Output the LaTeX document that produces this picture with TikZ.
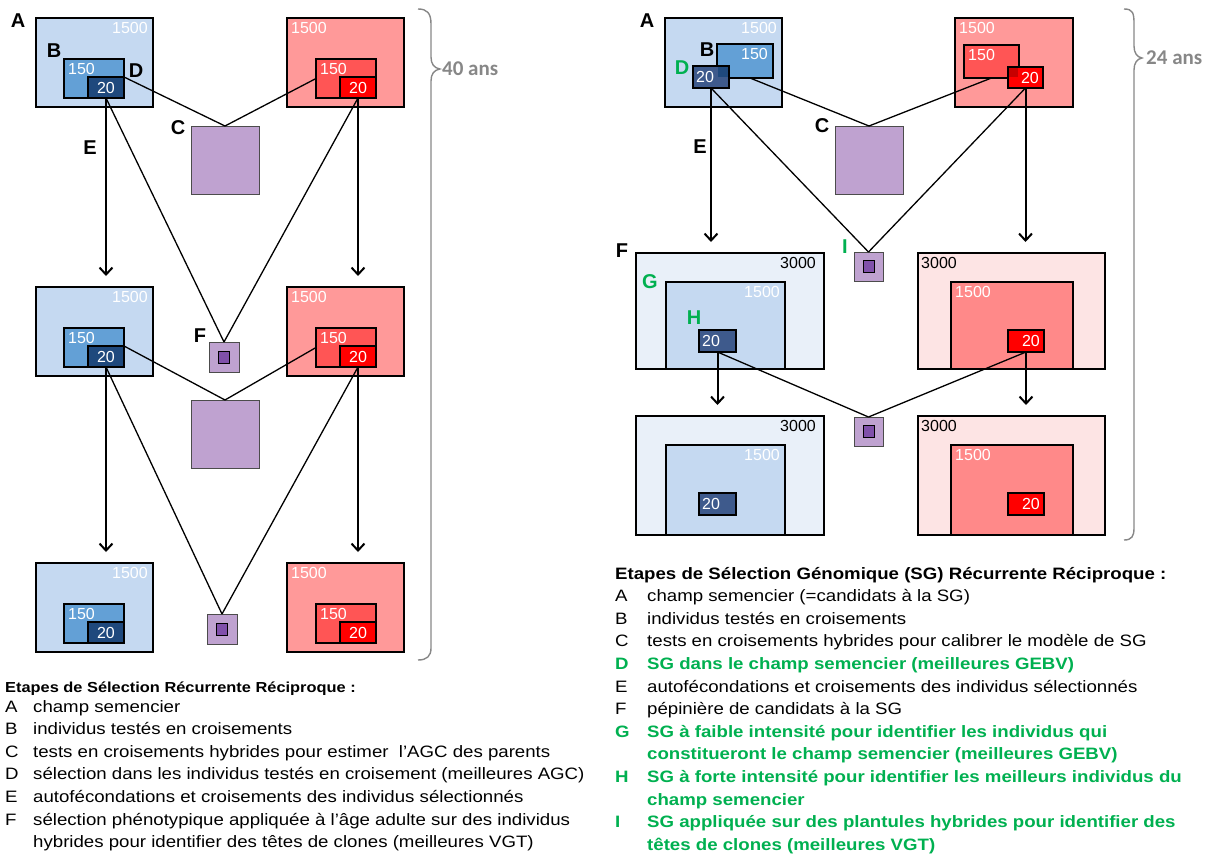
\documentclass[tikz,border=0pt]{standalone}
\usepackage{fontspec}
\setmainfont{Liberation Sans}
\newfontfamily\legfont{Liberation Sans}[FakeStretch=1.13]
\newfontfamily\bracefont{Carlito}
\usetikzlibrary{arrows.meta,calc}
\definecolor{blueA}{RGB}{197,217,241}
\definecolor{blueB}{RGB}{99,160,214}
\definecolor{blueD}{RGB}{31,73,125}
\definecolor{blueE}{RGB}{62,90,140}
\definecolor{blueF}{RGB}{233,240,249}
\definecolor{redA}{RGB}{255,153,153}
\definecolor{redB}{RGB}{255,85,85}
\definecolor{redD}{RGB}{255,0,0}
\definecolor{redE}{RGB}{200,0,0}
\definecolor{redG}{RGB}{255,137,137}
\definecolor{redF}{RGB}{253,228,228}
\definecolor{purC}{RGB}{191,162,208}
\definecolor{purI}{RGB}{128,80,170}
\definecolor{sgreen}{RGB}{0,176,80}
\definecolor{brgray}{RGB}{135,135,135}
\newcommand{\sgt}[1]{{\leavevmode\color{sgreen}\bfseries #1}}

\tikzset{
  fld/.style={draw=black, line width=2.8pt, inner sep=0pt, outer sep=0pt, anchor=north west},
  hyb/.style={draw=black!70, line width=0.9pt, fill=purC, inner sep=0pt, outer sep=0pt, anchor=north west},
  pep/.style={draw=black, line width=0.9pt, fill=purI, minimum width=11pt, minimum height=12pt, inner sep=0pt},
  num/.style={text=white, font=\fontsize{16}{16}\selectfont},
  numk/.style={text=black, font=\fontsize{16}{16}\selectfont},
  trw/.style={label={[num,anchor=north east,inner xsep=5pt,inner ysep=4pt]north east:#1}},
  tlw/.style={label={[num,anchor=north west,inner xsep=4pt,inner ysep=4pt]north west:#1}},
  trk/.style={label={[numk,anchor=north east,inner xsep=8pt,inner ysep=4pt]north east:#1}},
  tlk/.style={label={[numk,anchor=north west,inner xsep=3pt,inner ysep=4pt]north west:#1}},
  lw/.style={label={[num,anchor=west,inner sep=3pt]west:#1}},
  rw/.style={label={[num,anchor=east,inner sep=4pt]east:#1}},
  cross/.style={line width=1.3pt},
  gen/.style={line width=2pt, -{Straight Barb[length=7pt,width=13pt,line width=2pt]}, shorten >=11pt},
  lab/.style={font=\fontsize{20}{20}\selectfont\bfseries, inner sep=0pt},
  glab/.style={lab, text=sgreen},
  brc/.style={draw=brgray, line width=1.4pt},
  ans/.style={text=brgray, font=\bracefont\fontsize{21}{21}\selectfont\bfseries, inner sep=0pt, anchor=west},
  leg/.style={inner sep=0pt, anchor=base west, font=\legfont\fontsize{16.5}{22.6}\selectfont}
}

\begin{document}
\begin{tikzpicture}[x=1pt,y=-1pt]
\useasboundingbox (0,0) rectangle (1219,854);

% ---- selection recurrente reciproque
\foreach \i/\y in {1/18,2/287,3/563}{
  \node[fld,fill=blueA,minimum width=117pt,minimum height=89pt,trw=1500] (bA\i) at (36,\y) {};
  \node[fld,fill=blueB,minimum width=60pt,minimum height=39pt,tlw=150] (bB\i) at (64,\y+41) {};
  \node[fld,num,fill=blueD,minimum width=36pt,minimum height=21pt] (bD\i) at (88,\y+59) {20};
  \node[fld,fill=redA,minimum width=117pt,minimum height=89pt,tlw=1500] (rA\i) at (287,\y) {};
  \node[fld,fill=redB,minimum width=60pt,minimum height=39pt,tlw=150] (rB\i) at (316,\y+41) {};
  \node[fld,num,fill=redD,minimum width=36pt,minimum height=21pt] (rD\i) at (340,\y+59) {20};
}
\node[hyb,minimum size=68pt] (c1) at (191,126) {};
\node[hyb,minimum size=68pt] (c2) at (191,400) {};
\node[hyb,minimum size=30pt] (f2) at (209,342) {};
\node[hyb,minimum size=30pt] (f3) at (207,614) {};
\foreach \f in {f2,f3} \node[pep] (\f-in) at (\f.center) {};

\foreach \i/\j in {1/2,2/3}{
  \draw[cross] (bD\i.north east) -- (c\i.north);
  \draw[cross] (rB\i.west) -- (c\i.north);
  \draw[cross] (bD\i.south) -- (f\j.north);
  \draw[cross] (rD\i.south) -- (f\j.north);
  \draw[gen] (bD\i.south) -- (bD\i.south |- bA\j.north);
  \draw[gen] (rD\i.south) -- (rD\i.south |- rA\j.north);
}

\node[lab] (lA) at (18,21) {A};
\node[lab] (lB) at (54,51) {B};
\node[lab] (lD) at (136,71) {D};
\node[lab] (lC) at (178,128) {C};
\node[lab] (lE) at (90,148) {E};
\node[lab] (lF) at (200,336) {F};

\draw[brc] (418,9) .. controls (427,9) and (431,13) .. (431,24) -- (431,57)
  .. controls (431,64) and (434,68) .. (440,69) .. controls (434,70) and (431,74) .. (431,81)
  -- (431,648) .. controls (431,656) and (427,660) .. (418,660);
\node[ans] (t40) at (442,69) {40 ans};

% ---- selection genomique recurrente reciproque
\node[fld,fill=blueA,minimum width=117pt,minimum height=89pt,trw=1500] (gA) at (665,18) {};
\node[fld,fill=blueB,minimum width=56pt,minimum height=34pt,trw=150] (gB) at (717,44) {};
\node[fld,fill=blueE,minimum width=36pt,minimum height=22pt,lw=20] (gD) at (693,66) {};
\fill[blueD] ($(gB.west |- gD.north)+(1.4,1.4)$) rectangle ($(gD.east |- gB.south)+(-1.4,-1.4)$);
\node[fld,fill=redA,minimum width=118pt,minimum height=89pt,tlw=1500] (hA) at (955,18) {};
\node[fld,fill=redB,minimum width=55pt,minimum height=33pt,tlw=150] (hB) at (964,45) {};
\node[fld,fill=redD,minimum width=35pt,minimum height=21pt,rw=20] (hD) at (1008,67) {};
\fill[redE] ($(hD.north west)+(1.4,1.4)$) rectangle ($(hB.south east)+(-1.4,-1.4)$);
\node[hyb,minimum size=68pt] (cR) at (835,126) {};

\foreach \i/\y/\h in {2/253/116,3/416/119}{
  \node[fld,fill=blueF,minimum width=188pt,minimum height=\h,trk=3000] (gF\i) at (636,\y) {};
  \node[fld,fill=blueA,minimum width=119pt,minimum height=\h-29,trw=1500] (gG\i) at (666,\y+29) {};
  \node[fld,fill=blueE,minimum width=37pt,minimum height=22pt,lw=20] (gH\i) at (699,\y+77) {};
  \node[fld,fill=redF,minimum width=187pt,minimum height=\h,tlk=3000] (hF\i) at (918,\y) {};
  \node[fld,fill=redG,minimum width=122pt,minimum height=\h-29,tlw=1500] (hG\i) at (951,\y+29) {};
  \node[fld,fill=redD,minimum width=36pt,minimum height=22pt,rw=20] (hH\i) at (1008,\y+77) {};
}
\node[hyb,minimum size=29pt] (i1) at (854,252) {};
\node[hyb,minimum size=29pt] (i2) at (854,417) {};
\foreach \f in {i1,i2} \node[pep] (\f-in) at (\f.center) {};

\draw[cross] ($(gB.south)+(5,0)$) -- (cR.north);
\draw[cross] (hB.south) -- (cR.north);
\draw[cross] (gD.south) -- (i1.north);
\draw[cross] (hD.south) -- (i1.north);
\draw[gen] (gD.south) -- (gD.south |- gF2.north);
\draw[gen] (hD.south) -- (hD.south |- hF2.north);
\draw[cross] (gH2.south) -- (i2.north);
\draw[cross] (hH2.south) -- (i2.north);
\draw[gen] (gH2.south) -- (gH2.south |- gF3.north);
\draw[gen] (hH2.south) -- (hH2.south |- hF3.north);

\node[lab] (mA) at (647,21) {A};
\node[lab] (mB) at (707,50) {B};
\node[glab] (mD) at (682,68) {D};
\node[lab] (mC) at (822,126) {C};
\node[lab] (mE) at (700,147) {E};
\node[lab] (mF) at (622,251) {F};
\node[glab] (mG) at (650,282) {G};
\node[glab] (mH) at (694,318) {H};
\node[glab] (mI) at (845,247) {I};

\draw[brc] (1124,9) .. controls (1133,9) and (1134,13) .. (1134,24) -- (1134,46)
  .. controls (1134,53) and (1137,57) .. (1142,58) .. controls (1137,59) and (1134,63) .. (1134,70)
  -- (1134,528) .. controls (1134,536) and (1132,540) .. (1124,540);
\node[ans] (t24) at (1146,58) {24 ans};

% ---- legendes
\node[leg,font=\legfont\fontsize{14.5}{16}\selectfont\bfseries] (legLt) at (5,692)
  {Etapes de Sélection Récurrente Réciproque :};
\node[leg] (legL) at (5,712) {%
\begin{tabular}[t]{@{}p{28pt}@{}l@{}}
A & champ semencier\\
B & individus testés en croisements\\
C & tests en croisements hybrides pour estimer \ l’AGC des parents\\
D & sélection dans les individus testés en croisement (meilleures AGC)\\
E & autofécondations et croisements des individus sélectionnés\\
F & sélection phénotypique appliquée à l’âge adulte sur des individus\\
  & hybrides pour identifier des têtes de clones (meilleures VGT)
\end{tabular}};

\node[leg] (legR) at (615,579) {%
\begin{tabular}[t]{@{}p{32pt}@{}l@{}}
\multicolumn{2}{@{}l@{}}{\bfseries Etapes de Sélection Génomique (SG) Récurrente Réciproque :}\\
A & champ semencier (=candidats à la SG)\\
B & individus testés en croisements\\
C & tests en croisements hybrides pour calibrer le modèle de SG\\
\sgt{D} & \sgt{SG dans le champ semencier (meilleures GEBV)}\\
E & autofécondations et croisements des individus sélectionnés\\
F & pépinière de candidats à la SG\\
\sgt{G} & \sgt{SG à faible intensité pour identifier les individus qui}\\
  & \sgt{constitueront le champ semencier (meilleures GEBV)}\\
\sgt{H} & \sgt{SG à forte intensité pour identifier les meilleurs individus du}\\
  & \sgt{champ semencier}\\
\sgt{I} & \sgt{SG appliquée sur des plantules hybrides pour identifier des}\\
  & \sgt{têtes de clones (meilleures VGT)}
\end{tabular}};
\end{tikzpicture}
\end{document}
